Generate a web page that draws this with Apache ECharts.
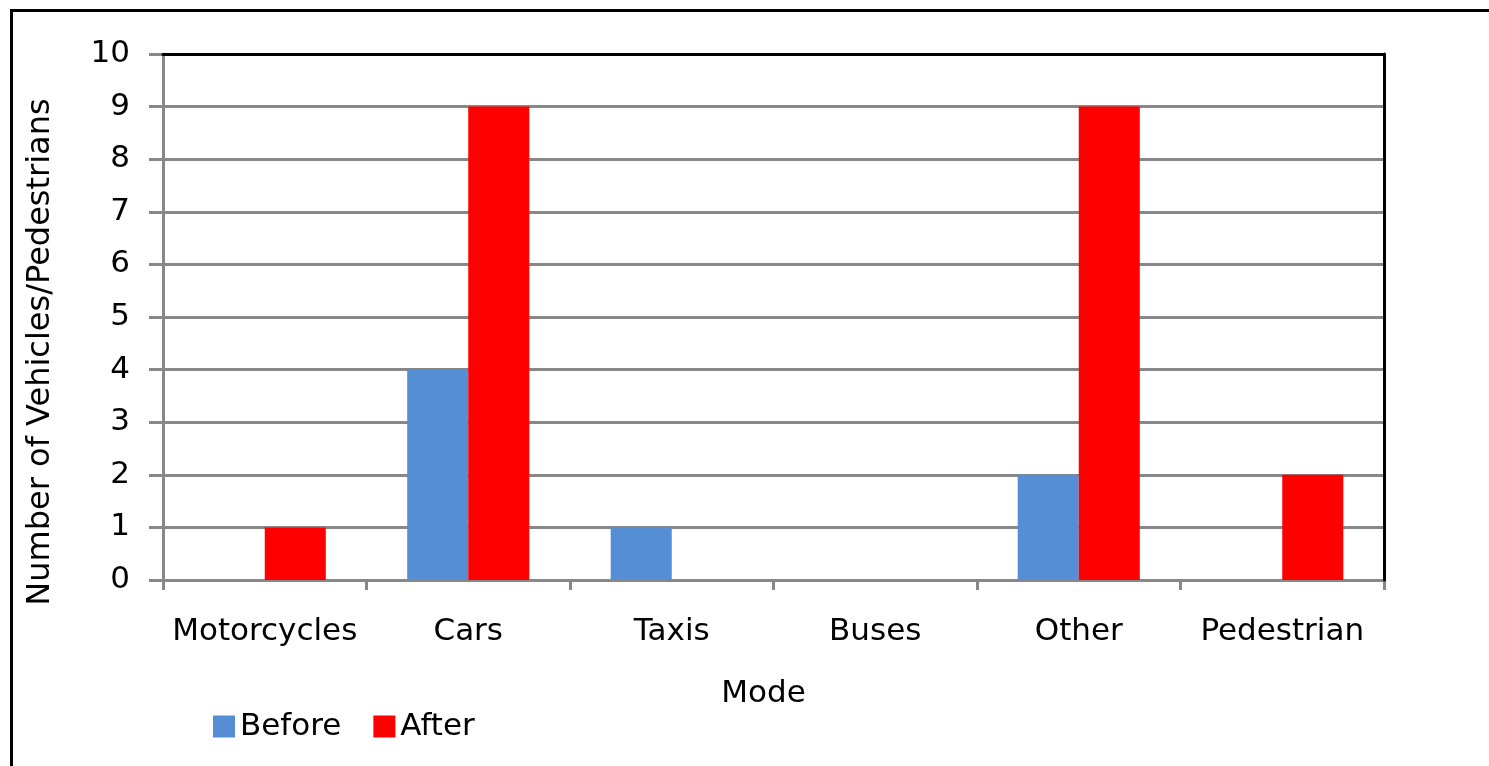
<!DOCTYPE html>
<html>
<head>
<meta charset="utf-8">
<script src="https://cdn.jsdelivr.net/npm/echarts@6/dist/echarts.min.js"></script>
<style>
  html, body { margin: 0; padding: 0; background: #fff; overflow: hidden; }
  #frame {
    position: absolute; left: 10px; top: 9px; width: 1600px; height: 900px;
    border-left: 3px solid #000; border-top: 3px solid #000;
  }
  #chart { position: absolute; left: 0; top: 0; width: 1489px; height: 766px; }
</style>
</head>
<body>
<div id="frame"></div>
<div id="chart"></div>
<script>
// data
const categories = ['Motorcycles', 'Cars', 'Taxis', 'Buses', 'Other', 'Pedestrian'];
const beforeValues = [0, 4, 1, 0, 2, 0];
const afterValues = [1, 9, 0, 0, 9, 2];

const font = 'DejaVu Sans';
const gray = '#888888';

const chart = echarts.init(document.getElementById('chart'));

const option = {
  animation: false,
  textStyle: { fontFamily: font, color: '#000' },
  grid: { left: 163, right: 105, top: 54, bottom: 186, containLabel: false },
  legend: {
    left: 208,
    top: 706,
    itemWidth: 22,
    itemHeight: 22,
    itemGap: 32,
    icon: 'rect',
    textStyle: { fontSize: 31, color: '#000', fontFamily: font },
    data: ['Before', 'After']
  },
  xAxis: [
    {
      type: 'category',
      data: categories,
      name: 'Mode',
      nameLocation: 'middle',
      nameGap: 98,
      nameTextStyle: { fontSize: 31, color: '#000', padding: [0, 20, 0, 0] },
      axisLine: { lineStyle: { color: gray, width: 3 } },
      axisTick: { show: true, interval: 0, length: 10, lineStyle: { color: gray, width: 3 } },
      axisLabel: { fontSize: 31, color: '#000', margin: 36, interval: 0 },
      splitLine: { show: false }
    },
    {
      // plot border on top
      type: 'category',
      data: categories,
      position: 'top',
      axisLine: { onZero: false, lineStyle: { color: '#000', width: 3 } },
      axisTick: { show: false },
      axisLabel: { show: false },
      z: 10
    }
  ],
  yAxis: [
    {
      type: 'value',
      min: 0,
      max: 10,
      interval: 1,
      name: 'Number of Vehicles/Pedestrians',
      nameLocation: 'middle',
      nameGap: 106,
      nameTextStyle: { fontSize: 32, color: '#000', padding: [0, 70, 0, 0] },
      axisLine: { show: true, lineStyle: { color: gray, width: 3 } },
      axisTick: { show: true, length: 14, lineStyle: { color: gray, width: 3 } },
      axisLabel: { fontSize: 31, color: '#000', margin: 33 },
      splitLine: { show: true, lineStyle: { color: gray, width: 3 } }
    },
    {
      // plot border on the right
      type: 'value',
      min: 0,
      max: 10,
      interval: 1,
      position: 'right',
      axisLine: { show: true, onZero: false, lineStyle: { color: '#000', width: 3 } },
      axisTick: { show: false },
      axisLabel: { show: false },
      splitLine: { show: false },
      z: 10
    }
  ],
  series: [
    {
      name: 'Before',
      type: 'bar',
      data: beforeValues,
      barGap: '0%',
      barCategoryGap: '40%',
      itemStyle: { color: '#558ed5' },
      z: 5
    },
    {
      name: 'After',
      type: 'bar',
      data: afterValues,
      barGap: '0%',
      barCategoryGap: '40%',
      itemStyle: { color: '#ff0000' },
      z: 5
    }
  ]
};

chart.setOption(option);
</script>
</body>
</html>
